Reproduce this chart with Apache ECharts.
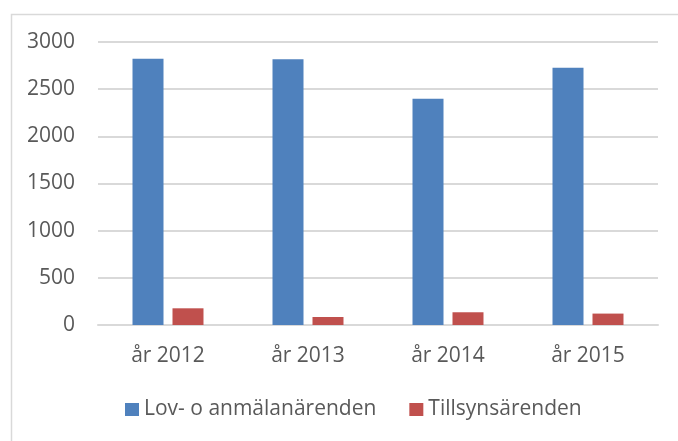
<!DOCTYPE html>
<html>
<head>
<meta charset="utf-8">
<script src="https://cdn.jsdelivr.net/npm/echarts@6/dist/echarts.min.js"></script>
<style>
html, body {
  margin: 0;
  padding: 0;
  background: #fff;
}
#main {
  width: 678px;
  height: 441px;
}
</style>
</head>
<body>
<div id="main"></div>
<script>
const categories = ['år 2012', 'år 2013', 'år 2014', 'år 2015'];
const lovValues = [2823, 2816, 2398, 2727];
const tillsynValues = [177, 85, 135, 121];
const seriesNames = ['Lov- o anmälanärenden', 'Tillsynsärenden'];

const chart = echarts.init(document.getElementById('main'));
const font = 'Open Sans';

const option = {
  animation: false,
  textStyle: { fontFamily: font },
  graphic: [
    {
      type: 'rect',
      left: 9,
      top: 12,
      shape: { width: 700, height: 460 },
      style: { fill: 'none', stroke: '#d9d9d9', lineWidth: 1.5 },
      silent: true
    }
  ],
  grid: {
    left: 98,
    right: 20,
    top: 42,
    bottom: 116
  },
  legend: {
    data: seriesNames,
    left: 125,
    top: 399,
    padding: 0,
    itemWidth: 14,
    itemHeight: 13,
    itemGap: 33,
    icon: 'rect',
    textStyle: { fontSize: 21, color: '#595959', fontFamily: font }
  },
  xAxis: {
    type: 'category',
    data: categories,
    axisLine: { lineStyle: { color: '#d9d9d9', width: 2 } },
    axisTick: { show: false },
    axisLabel: { fontSize: 21, color: '#595959', margin: 21, fontFamily: font }
  },
  yAxis: {
    type: 'value',
    min: 0,
    max: 3000,
    interval: 500,
    axisLine: { show: false },
    axisTick: { show: false },
    splitLine: { lineStyle: { color: '#d9d9d9', width: 2 } },
    axisLabel: {
      fontSize: 21,
      color: '#595959',
      margin: 23,
      fontFamily: font,
      formatter: function (v) { return String(v); }
    }
  },
  series: [
    {
      name: seriesNames[0],
      type: 'bar',
      data: lovValues,
      barWidth: 31,
      barGap: '29%',
      itemStyle: { color: '#4f81bd' }
    },
    {
      name: seriesNames[1],
      type: 'bar',
      data: tillsynValues,
      barWidth: 31,
      itemStyle: { color: '#c0504d' }
    }
  ]
};

chart.setOption(option);
</script>
</body>
</html>
